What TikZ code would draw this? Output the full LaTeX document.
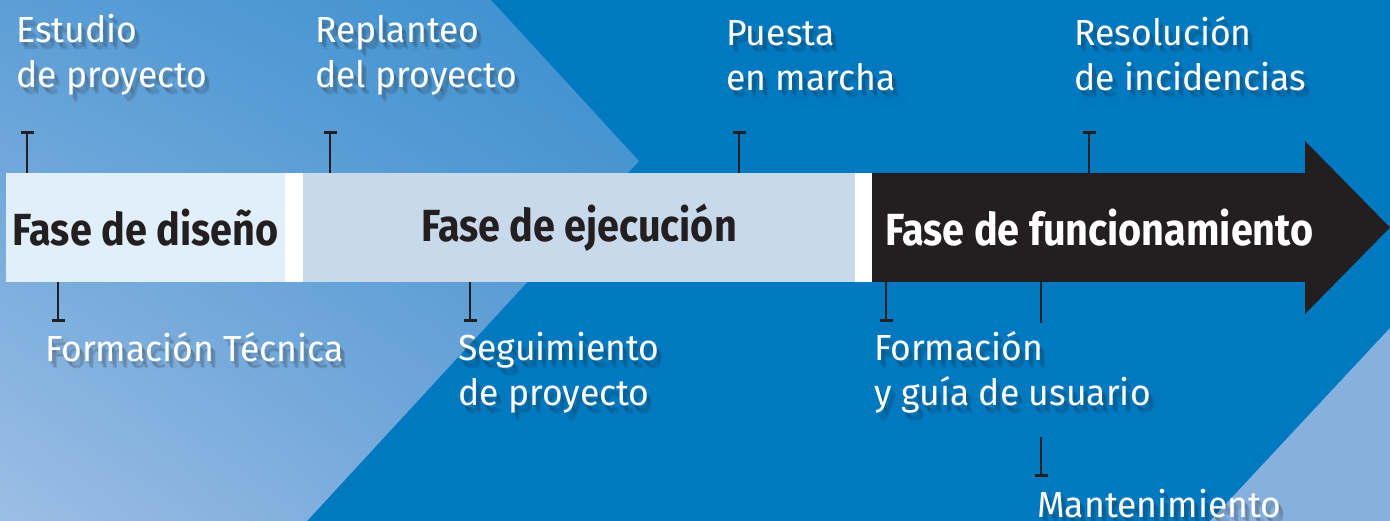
\documentclass[tikz,border=0pt]{standalone}
\usepackage{xcolor}
\usepackage{fontspec}
\usepackage{tikz}
\usetikzlibrary{arrows.meta, positioning, calc, shadings}

\newfontfamily\lblfont{Fira Sans}[FakeStretch=0.98]
\newfontfamily\phasefont{Fira Sans}[FakeStretch=0.88]

\definecolor{fondo}{HTML}{0079C1}
\definecolor{ink}{HTML}{231F20}
\definecolor{pale}{HTML}{E1EFFA}
\definecolor{grisazul}{HTML}{C9D9EC}
\definecolor{claro}{HTML}{86B1DF}
\definecolor{chevUL}{RGB}{92,158,214}
\definecolor{chevUR}{RGB}{56,143,207}
\definecolor{chevLL}{RGB}{156,190,229}
\definecolor{chevLR}{RGB}{104,160,214}

\tikzset{
  lbl/.style={anchor=base west, align=left, inner sep=0pt, text=white,
    font=\lblfont\fontsize{36.3}{45}\selectfont},
  phase/.style={rectangle, inner sep=0pt, minimum height=109pt,
    font=\phasefont\bfseries\fontsize{45}{50}\selectfont, text=ink},
  tickline/.style={draw=ink, line width=2.7pt, -{Bar[width=13pt]}},
  tickplain/.style={draw=ink, line width=2.7pt},
}

% texto blanco con sombra (la posicion es la base de la ultima linea)
\newcommand\sombra[3]{%
  \foreach \dx/\dy in {2/3,4/5,5/7}
    \node[lbl, text=ink, text opacity=0.13] at ([shift={(\dx,\dy)}]#2) {#3};
  \node[lbl] (#1) at (#2) {#3};}

\begin{document}
\begin{tikzpicture}[x=1pt, y=-1pt]
  \useasboundingbox (0,0) rectangle (1390,521);
  \clip (0,0) rectangle (1390,521);

  % fondo
  \fill[fondo] (0,0) rectangle (1390,521);
  \shade[upper left=chevUL, upper right=chevUR, lower left=chevLL, lower right=chevLR]
    (0,0) -- (491,0) -- (639,161) -- (307,521) -- (0,521) -- cycle;
  \fill[claro] (1390,328) -- (1210,521) -- (1390,521) -- cycle;

  % punta de flecha
  \coordinate (punta) at (1390,227.5);
  \fill[ink] (1305,173) -- (1305,141) -- (punta) -- (1305,314) -- (1305,282) -- cycle;

  % fases
  \node[phase, fill=pale, minimum width=279pt] (diseno) at (145.5,227.5) {Fase de diseño};
  \node[phase, fill=grisazul, minimum width=552pt] (ejec) at (579,227.5) {Fase de ejecución};
  \node[phase, fill=ink, text=white, minimum width=455pt] (func) at (1099.5,227.5) {Fase de funcionamiento};
  \fill[white] (diseno.north east) rectangle (ejec.south west);
  \fill[white] (ejec.north east) rectangle (func.south west);

  % etiquetas
  \sombra{estudio}{16,88}{Estudio\\de proyecto}
  \sombra{replanteo}{315,88}{Replanteo\\del proyecto}
  \sombra{puesta}{726,91}{Puesta\\en marcha}
  \sombra{resol}{1074,91}{Resolución\\de incidencias}
  \sombra{formtec}{45,362}{Formación Técnica}
  \sombra{seguim}{458,406}{Seguimiento\\de proyecto}
  \sombra{formguia}{874,406}{Formación\\y guía de usuario}
  \sombra{manten}{1037,517}{Mantenimiento}

  % marcas de arriba
  \coordinate (t-estudio) at (27,131);
  \coordinate (t-replanteo) at (330,131);
  \coordinate (t-puesta) at (739,131);
  \coordinate (t-resol) at (1089,131);
  \draw[tickline] (t-estudio |- diseno.north) -- (t-estudio);
  \draw[tickline] (t-replanteo |- ejec.north) -- (t-replanteo);
  \draw[tickline] (t-puesta |- ejec.north) -- (t-puesta);
  \draw[tickline] (t-resol |- func.north) -- (t-resol);

  % marcas de abajo
  \coordinate (t-formtec) at (58,322);
  \coordinate (t-seguim) at (470,322);
  \coordinate (t-formguia) at (886,322);
  \coordinate (t-manten) at (1041,323);
  \coordinate (m-ini) at (1041,437);
  \coordinate (m-fin) at (1041,477);
  \draw[tickline] (t-formtec |- diseno.south) -- (t-formtec);
  \draw[tickline] (t-seguim |- ejec.south) -- (t-seguim);
  \draw[tickline] (t-formguia |- func.south) -- (t-formguia);
  \draw[tickplain] (t-manten |- func.south) -- (t-manten);
  \draw[tickline] (m-ini) -- (m-fin);
\end{tikzpicture}
\end{document}
